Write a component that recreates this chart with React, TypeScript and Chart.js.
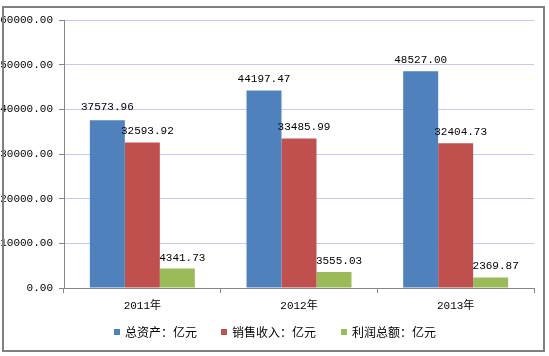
import React, { useEffect, useRef } from "react";
import { Chart, registerables } from "chart.js";

Chart.register(...registerables);

const categories = ["2011年", "2012年", "2013年"];
const seriesNames = ["总资产：亿元", "销售收入：亿元", "利润总额：亿元"];
const totalAssets = [37573.96, 44197.47, 48527.0];
const salesRevenue = [32593.92, 33485.99, 32404.73];
const totalProfit = [4341.73, 3555.03, 2369.87];
const yTicks = [0, 10000, 20000, 30000, 40000, 50000, 60000];

const COLORS = ["#4F81BD", "#C0504D", "#9BBB59"];
const NUM_FONT = "'Liberation Mono', 'Noto Sans CJK SC', monospace";
const CJK_FONT = "'Noto Sans CJK SC', sans-serif";
const AXIS_GRAY = "#868686";

const labelPlugin = {
  id: "valueLabels",
  afterDatasetsDraw(chart: any) {
    const ctx = chart.ctx;
    ctx.save();
    ctx.font = `11px ${NUM_FONT}`;
    ctx.fillStyle = "#000";
    ctx.textAlign = "center";
    ctx.textBaseline = "middle";
    const xNudge = [0, 5, 5];
    const n = chart.data.labels.length;
    for (let i = 0; i < n; i++) {
      // compute positions, then avoid collisions between neighbouring labels
      const pos: { x: number; y: number; t: string }[] = [];
      chart.data.datasets.forEach((ds: any, di: number) => {
        const bar = chart.getDatasetMeta(di).data[i];
        const v = ds.data[i] as number;
        pos.push({ x: bar.x + xNudge[di], y: bar.y - 11, t: v.toFixed(2) });
      });
      for (let k = pos.length - 2; k >= 0; k--) {
        const a = pos[k];
        const b = pos[k + 1];
        const wa = ctx.measureText(a.t).width;
        const wb = ctx.measureText(b.t).width;
        const overlapX = Math.abs(a.x - b.x) < (wa + wb) / 2;
        if (overlapX && a.y > b.y - 24 && a.y < b.y + 12) {
          a.y = b.y - 24;
        }
      }
      pos.forEach((p) => ctx.fillText(p.t, p.x, p.y));
    }
    ctx.restore();
  },
};

const decorPlugin = {
  id: "decor",
  afterDraw(chart: any) {
    const ctx = chart.ctx;
    ctx.save();
    // frame
    ctx.strokeStyle = "#808080";
    ctx.lineWidth = 2;
    ctx.strokeRect(3, 7, 541, 344);
    // legend
    const itemX = [114, 221, 341];
    const cy = 332;
    ctx.font = `12px ${CJK_FONT}`;
    ctx.textAlign = "left";
    ctx.textBaseline = "middle";
    seriesNames.forEach((name, i) => {
      ctx.fillStyle = COLORS[i];
      ctx.fillRect(itemX[i], cy - 3, 6, 6);
      ctx.fillStyle = "#000";
      ctx.fillText(name, itemX[i] + 11, cy);
    });
    ctx.restore();
  },
};

export default function App() {
  const ref = useRef<HTMLCanvasElement>(null);
  useEffect(() => {
    document.body.style.margin = "0";
    const chart = new Chart(ref.current!, {
      type: "bar",
      data: {
        labels: categories,
        datasets: [totalAssets, salesRevenue, totalProfit].map((d, i) => ({
          label: seriesNames[i],
          data: d,
          backgroundColor: COLORS[i],
          categoryPercentage: 0.67,
          barPercentage: 1.0,
        })),
      },
      options: {
        responsive: false,
        animation: false,
        devicePixelRatio: 1,
        layout: { padding: { left: 0, right: 15, top: 20, bottom: 0 } },
        plugins: {
          legend: { display: false },
          tooltip: { enabled: false },
        },
        scales: {
          x: {
            grid: {
              display: true,
              drawOnChartArea: false,
              drawTicks: true,
              tickLength: 5,
              tickColor: AXIS_GRAY,
              offset: true,
            },
            border: { color: AXIS_GRAY },
            ticks: {
              color: "#000",
              font: { family: NUM_FONT, size: 11 },
              padding: 6,
            },
            afterFit(scale: any) {
              scale.height = 68;
            },
          },
          y: {
            min: 0,
            max: 60000,
            afterBuildTicks(scale: any) {
              scale.ticks = yTicks.map((v) => ({ value: v }));
            },
            grid: {
              color: "#C6C6FA",
              tickLength: 5,
              tickColor: AXIS_GRAY,
            },
            border: { color: AXIS_GRAY },
            ticks: {
              color: "#000",
              font: { family: NUM_FONT, size: 11 },
              padding: 6,
              callback: (v: any) => Number(v).toFixed(2),
            },
            afterFit(scale: any) {
              scale.width = 64;
            },
          },
        },
      },
      plugins: [labelPlugin, decorPlugin],
    });
    return () => chart.destroy();
  }, []);
  return (
    <div style={{ width: 549, height: 356 }}>
      <canvas ref={ref} width={549} height={356} />
    </div>
  );
}
